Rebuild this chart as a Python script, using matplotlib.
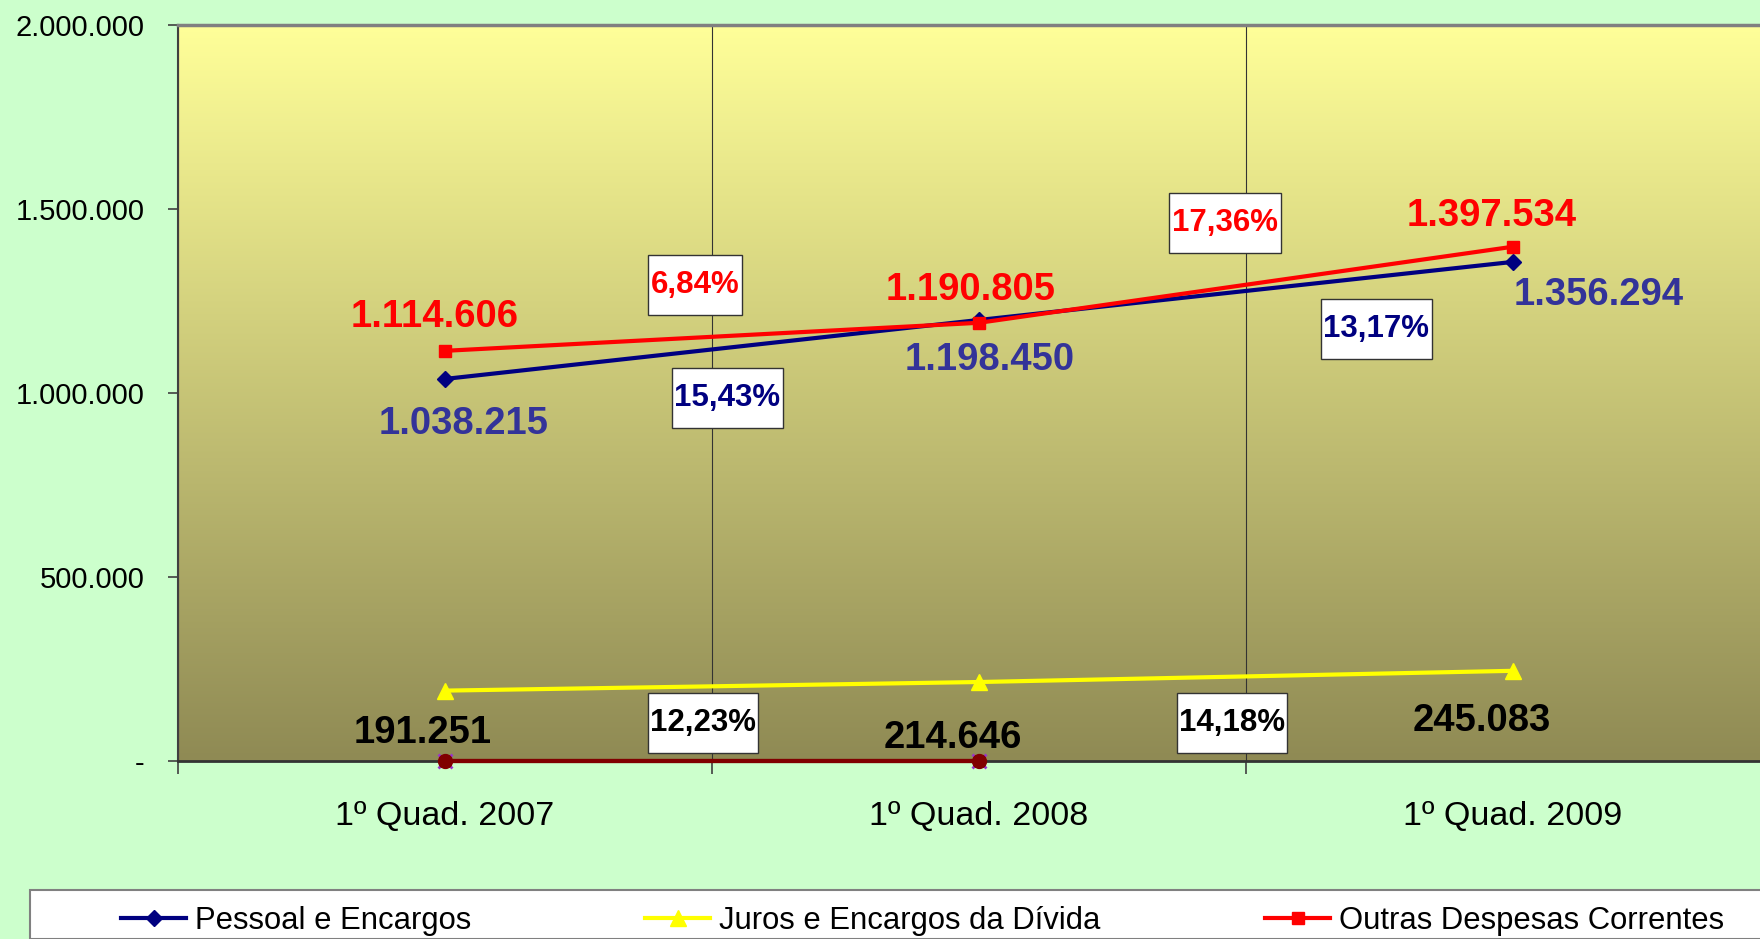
import numpy as np
import matplotlib
matplotlib.use("Agg")
import matplotlib.pyplot as plt
from matplotlib.ticker import FuncFormatter
from matplotlib.patches import Rectangle
from matplotlib.lines import Line2D

plt.rcParams['font.family'] = ['Liberation Sans', 'DejaVu Sans']

# ---- data ----
categories = ["1º Quad. 2007", "1º Quad. 2008", "1º Quad. 2009"]
pessoal = [1038215, 1198450, 1356294]
juros = [191251, 214646, 245083]
outras = [1114606, 1190805, 1397534]
zero_a = [0, 0, np.nan]
zero_b = [0, 0, np.nan]
series_names = ["Pessoal e Encargos", "Juros e Encargos da Dívida", "Outras Despesas Correntes"]
pct_pessoal = ["15,43%", "13,17%"]
pct_outras = ["6,84%", "17,36%"]
pct_juros = ["12,23%", "14,18%"]

# ---- figure ----
W, H = 1760, 939
fig = plt.figure(figsize=(W / 100, H / 100), dpi=100, facecolor='#CCFFCC')
AX_L, AX_B, AX_W, AX_H = 178, 761, 1602, 736  # pixels (bottom from top)
ax = fig.add_axes([AX_L / W, (H - AX_B) / H, AX_W / W, AX_H / H])
ax.set_facecolor('none')

# gradient background
top = np.array([255, 255, 153]) / 255
bot = np.array([143, 138, 84]) / 255
t = np.linspace(0, 1, 256)[:, None]
grad = (top[None, :] * (1 - t) + bot[None, :] * t)[:, None, :]
ax.imshow(grad, extent=[0, 1, 0, 1], transform=ax.transAxes, aspect='auto', zorder=0)

x = np.arange(len(categories)) + 0.5
ax.set_xlim(0, 3)
ax.set_ylim(0, 2000000)

# series
ax.plot(x, zero_b, color='#800000', lw=3, marker='x', ms=10, mew=2,
        mec='#9933CC', zorder=5, clip_on=False)
ax.plot(x, zero_a, color='#800000', lw=3, marker='o', ms=10,
        mfc='#800000', mec='#800000', zorder=6, clip_on=False)
l1, = ax.plot(x, pessoal, color='#000080', lw=3, marker='D', ms=8, zorder=7)
l2, = ax.plot(x, juros, color='#FFFF00', lw=3, marker='^', ms=11, zorder=7)
l3, = ax.plot(x, outras, color='#FF0000', lw=3, marker='s', ms=9, zorder=8)

# value labels (offsets in pixels, converted to points)
px2pt = 0.72
lab_kw = dict(textcoords='offset points', ha='center', va='center',
              fontsize=27.5, fontweight='bold', zorder=10)
off_outras = [(-10, 34), (-8, 33), (-21, 31)]
off_pessoal = [(19, -45), (11, -40), (86, -33)]
off_juros = [(-22, -42), (-26, -56), (-31, -50)]
for xi, v, o in zip(x, outras, off_outras):
    ax.annotate(f"{v:,}".replace(',', '.'), (xi, v),
                xytext=(o[0] * px2pt, o[1] * px2pt), color='#FF0000', **lab_kw)
for xi, v, o in zip(x, pessoal, off_pessoal):
    ax.annotate(f"{v:,}".replace(',', '.'), (xi, v),
                xytext=(o[0] * px2pt, o[1] * px2pt), color='#333399', **lab_kw)
for xi, v, o in zip(x, juros, off_juros):
    ax.annotate(f"{v:,}".replace(',', '.'), (xi, v),
                xytext=(o[0] * px2pt, o[1] * px2pt), color='#000000', **lab_kw)

# percent boxes (pixel centers, widths)
def pct_box(text, cx, cy, w, color):
    hbox = 60
    ax.add_patch(Rectangle(((cx - w / 2 - AX_L) / AX_W, (AX_B - cy - hbox / 2) / AX_H),
                           w / AX_W, hbox / AX_H, transform=ax.transAxes,
                           facecolor='white', edgecolor='#333333', lw=1, zorder=9))
    ax.text((cx - AX_L) / AX_W, (AX_B - cy) / AX_H, text, transform=ax.transAxes,
            ha='center', va='center', fontsize=22.5, fontweight='bold',
            color=color, zorder=11)

pct_box(pct_outras[0], 695, 285, 94, '#FF0000')
pct_box(pct_outras[1], 1225, 223, 112, '#FF0000')
pct_box(pct_pessoal[0], 727, 398, 111, '#000080')
pct_box(pct_pessoal[1], 1376, 329, 111, '#000080')
pct_box(pct_juros[0], 703, 723, 110, '#000000')
pct_box(pct_juros[1], 1232, 723, 110, '#000000')

# axes styling
ax.set_xticks(x)
ax.set_xticklabels(categories, fontsize=24.5)
ax.set_xticks([0, 1, 2, 3], minor=True)
ax.tick_params(axis='x', which='major', length=0, pad=29)
ax.tick_params(axis='x', which='minor', length=9.5, width=1.2, color='#404040')
ax.grid(which='minor', axis='x', color='#333333', lw=0.8, zorder=1)
ax.set_yticks([0, 500000, 1000000, 1500000, 2000000])
ax.yaxis.set_major_formatter(FuncFormatter(
    lambda v, p: '-' if v == 0 else f"{int(v):,}".replace(',', '.')))
ax.tick_params(axis='y', length=7, width=1.2, color='#404040', pad=17, labelsize=21)
ax.spines['left'].set_color('#404040'); ax.spines['left'].set_linewidth(1.5)
ax.spines['bottom'].set_color('#333333'); ax.spines['bottom'].set_linewidth(2)
ax.spines['top'].set_color('#808080'); ax.spines['top'].set_linewidth(2.5)
ax.spines['right'].set_visible(False)

# legend box
fig.patches.append(Rectangle((30 / W, 0), 1.0, (H - 890) / H, transform=fig.transFigure,
                             facecolor='white', edgecolor='#808080', lw=1.5, zorder=0))
handles = [Line2D([], [], color='#000080', lw=3, marker='D', ms=8),
           Line2D([], [], color='#FFFF00', lw=3, marker='^', ms=11),
           Line2D([], [], color='#FF0000', lw=3, marker='s', ms=9)]
for h, name, xpx in zip(handles, series_names, [121, 645, 1265]):
    fig.legend([h], [name], loc='center left', bbox_to_anchor=(xpx / W, (H - 921) / H),
               frameon=False, fontsize=22.3, borderpad=0, borderaxespad=0,
               handlelength=2.1, handletextpad=0.3, numpoints=1)

fig.savefig('out.png', dpi=100, facecolor=fig.get_facecolor())
